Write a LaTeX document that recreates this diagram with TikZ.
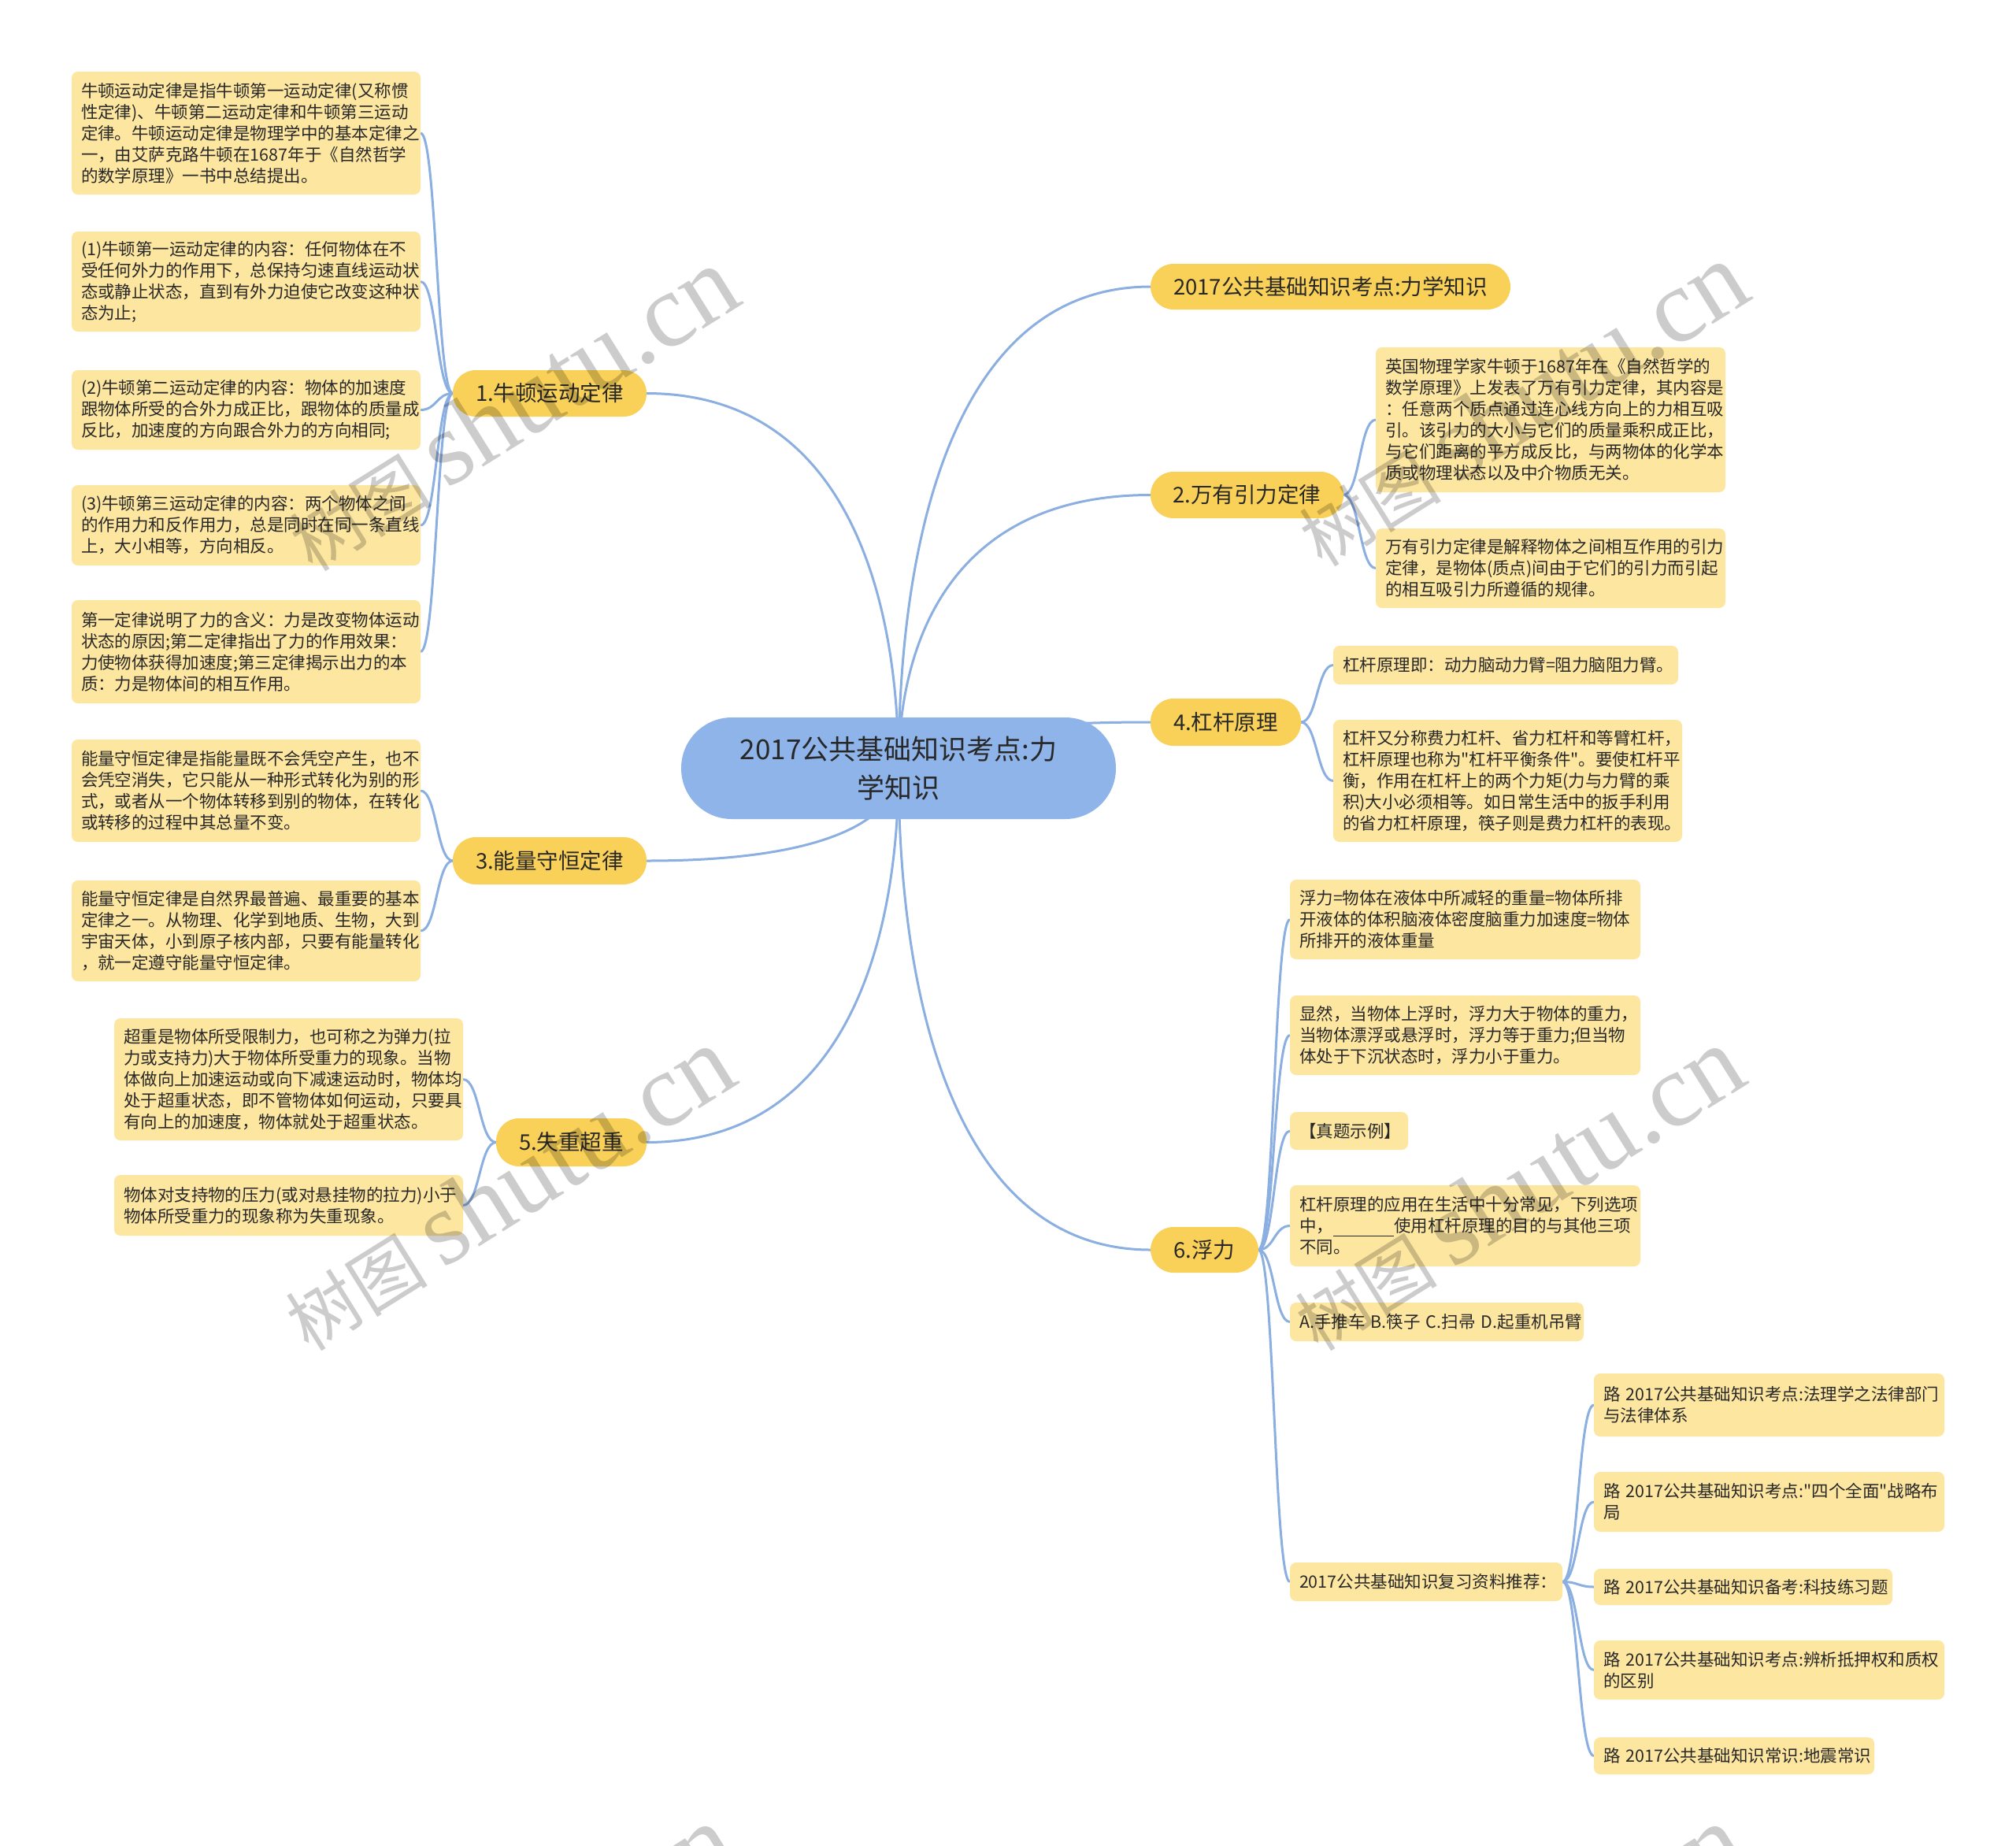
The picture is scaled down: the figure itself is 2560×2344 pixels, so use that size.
\documentclass[tikz,border=0pt]{standalone}
\usepackage{fontspec}
\setmainfont{Noto Sans CJK SC}[Ligatures=TeXOff]
\newfontfamily\wmcjk{Noto Sans CJK SC}
\newfontfamily\wmlat{Liberation Serif}
\usetikzlibrary{calc}
\pgfdeclarelayer{background}
\pgfdeclarelayer{foreground}
\pgfsetlayers{background,main,foreground}
\definecolor{rootc}{RGB}{143,180,234}
\definecolor{lvlc}{RGB}{250,209,88}
\definecolor{leafc}{RGB}{253,230,160}
\definecolor{linec}{RGB}{140,175,225}
\definecolor{txt}{RGB}{40,40,40}
\tikzset{
 leaf/.style={fill=leafc, rounded corners=2.4pt, inner xsep=3.6pt, inner ysep=0pt, outer sep=0pt, align=left, text=txt, font=\fontsize{6.45pt}{8.1pt}\selectfont},
 lvl/.style={fill=lvlc, rounded corners=8.7pt, inner sep=0pt, outer sep=0pt, text=txt, font=\fontsize{8.25pt}{10pt}\selectfont},
 rootn/.style={fill=rootc, rounded corners=19.3pt, inner sep=0pt, outer sep=0pt, align=center, text=txt, font=\fontsize{10.5pt}{14.7pt}\selectfont},
 conn/.style={draw=linec, line width=0.9pt},
 wm/.style={opacity=0.2, rotate=32, text=black, inner sep=0pt}
}
\newcommand\leafA[6]{%
 \pgfmathsetmacro\lfw{(#3-#2)*0.3-7.2}%
 \pgfmathsetmacro\lfh{(#5-#4)*0.3}%
 \node[leaf, text width=\lfw pt, minimum height=\lfh pt, anchor=north west] (#1) at (#2,#4) {#6};}
\newcommand\pill[6]{%
 \pgfmathsetmacro\lfw{(#3-#2)*0.3}%
 \pgfmathsetmacro\lfh{(#5-#4)*0.3}%
 \node[lvl, minimum width=\lfw pt, minimum height=\lfh pt, anchor=north west] (#1) at (#2,#4) {#6};}
\newcommand\brc[2]{\draw[conn] let \p1=(#1), \p2=(#2) in (\p1) .. controls ({0.5*\x1+0.5*\x2},\y1) and ({0.5*\x1+0.5*\x2},\y2) .. (\p2);}
\newcommand\rtc[1]{\draw[conn] let \p1=(root.center), \p2=(#1) in (\p1) .. controls (\x1,{0.55*\y1+0.45*\y2}) and ({0.8*\x1+0.2*\x2},\y2) .. (\p2);}
\newcommand\wmtext{{\wmcjk\fontsize{27pt}{30pt}\selectfont 树图}\hspace{6pt}{\wmlat\fontsize{40pt}{44pt}\selectfont shutu.cn}}
\begin{document}
\begin{tikzpicture}[x=0.3pt,y=-0.3pt]
\useasboundingbox (0,0) rectangle (2560,2344);
% root
\node[rootn, minimum width=165.6pt, minimum height=38.7pt, anchor=north west] (root) at (865,911) {2017公共基础知识考点:力\\学知识};
% level 1
\pill{t0}{1461}{1918}{335}{393}{2017公共基础知识考点:力学知识}
\pill{n1}{575}{821}{470}{529}{1.牛顿运动定律}
\pill{n2}{1461}{1706}{599}{658}{2.万有引力定律}
\pill{n4}{1461}{1652}{887}{947}{4.杠杆原理}
\pill{n3}{575}{821}{1063}{1123}{3.能量守恒定律}
\pill{n5}{630}{821}{1420}{1481}{5.失重超重}
\pill{n6}{1461}{1598}{1558}{1616}{6.浮力}
% leaves left
\leafA{l1}{91}{534}{91}{247}{牛顿运动定律是指牛顿第一运动定律(又称惯\\性定律)、牛顿第二运动定律和牛顿第三运动\\定律。牛顿运动定律是物理学中的基本定律之\\一，由艾萨克路牛顿在1687年于《自然哲学\\的数学原理》一书中总结提出。}
\leafA{l2}{91}{534}{294}{421}{(1)牛顿第一运动定律的内容：任何物体在不\\受任何外力的作用下，总保持匀速直线运动状\\态或静止状态，直到有外力迫使它改变这种状\\态为止;}
\leafA{l3}{91}{534}{470}{571}{(2)牛顿第二运动定律的内容：物体的加速度\\跟物体所受的合外力成正比，跟物体的质量成\\反比，加速度的方向跟合外力的方向相同;}
\leafA{l4}{91}{534}{616}{718}{(3)牛顿第三运动定律的内容：两个物体之间\\的作用力和反作用力，总是同时在同一条直线\\上，大小相等，方向相反。}
\leafA{l5}{91}{534}{762}{893}{第一定律说明了力的含义：力是改变物体运动\\状态的原因;第二定律指出了力的作用效果：\\力使物体获得加速度;第三定律揭示出力的本\\质：力是物体间的相互作用。}
\leafA{e1}{91}{534}{939}{1069}{能量守恒定律是指能量既不会凭空产生，也不\\会凭空消失，它只能从一种形式转化为别的形\\式，或者从一个物体转移到别的物体，在转化\\或转移的过程中其总量不变。}
\leafA{e2}{91}{534}{1118}{1246}{能量守恒定律是自然界最普遍、最重要的基本\\定律之一。从物理、化学到地质、生物，大到\\宇宙天体，小到原子核内部，只要有能量转化\\，就一定遵守能量守恒定律。}
\leafA{w1}{145}{588}{1293}{1448}{超重是物体所受限制力，也可称之为弹力(拉\\力或支持力)大于物体所受重力的现象。当物\\体做向上加速运动或向下减速运动时，物体均\\处于超重状态，即不管物体如何运动，只要具\\有向上的加速度，物体就处于超重状态。}
\leafA{w2}{145}{588}{1492}{1569}{物体对支持物的压力(或对悬挂物的拉力)小于\\物体所受重力的现象称为失重现象。}
% leaves right
\leafA{g1}{1747}{2191}{441}{625}{英国物理学家牛顿于1687年在《自然哲学的\\数学原理》上发表了万有引力定律，其内容是\\：任意两个质点通过连心线方向上的力相互吸\\引。该引力的大小与它们的质量乘积成正比，\\与它们距离的平方成反比，与两物体的化学本\\质或物理状态以及中介物质无关。}
\leafA{g2}{1747}{2191}{671}{772}{万有引力定律是解释物体之间相互作用的引力\\定律，是物体(质点)间由于它们的引力而引起\\的相互吸引力所遵循的规律。}
\leafA{v1}{1693}{2131}{820}{869}{杠杆原理即：动力脑动力臂=阻力脑阻力臂。}
\leafA{v2}{1693}{2136}{914}{1069}{杠杆又分称费力杠杆、省力杠杆和等臂杠杆，\\杠杆原理也称为"杠杆平衡条件"。要使杠杆平\\衡，作用在杠杆上的两个力矩(力与力臂的乘\\积)大小必须相等。如日常生活中的扳手利用\\的省力杠杆原理，筷子则是费力杠杆的表现。}
\leafA{f1}{1638}{2083}{1117}{1218}{浮力=物体在液体中所减轻的重量=物体所排\\开液体的体积脑液体密度脑重力加速度=物体\\所排开的液体重量}
\leafA{f2}{1638}{2083}{1264}{1365}{显然，当物体上浮时，浮力大于物体的重力，\\当物体漂浮或悬浮时，浮力等于重力;但当物\\体处于下沉状态时，浮力小于重力。}
\leafA{f3}{1638}{1788}{1412}{1460}{【真题示例】}
\leafA{f4}{1638}{2083}{1505}{1608}{杠杆原理的应用在生活中十分常见，下列选项\\中，\underline{\hspace{3.6em}}使用杠杆原理的目的与其他三项\\不同。}
\leafA{f5}{1638}{2011}{1654}{1703}{A.手推车~B.筷子~C.扫帚~D.起重机吊臂}
\leafA{f6}{1638}{1984}{1984}{2033}{2017公共基础知识复习资料推荐：}
\leafA{r1}{2024}{2469}{1744}{1824}{路~2017公共基础知识考点:法理学之法律部门\\与法律体系}
\leafA{r2}{2024}{2469}{1869}{1945}{路~2017公共基础知识考点:"四个全面"战略布\\局}
\leafA{r3}{2024}{2403}{1992}{2038}{路~2017公共基础知识备考:科技练习题}
\leafA{r4}{2024}{2469}{2083}{2158}{路~2017公共基础知识考点:辨析抵押权和质权\\的区别}
\leafA{r5}{2024}{2380}{2206}{2253}{路~2017公共基础知识常识:地震常识}
% connectors
\begin{pgfonlayer}{background}
\fill[white] (0,0) rectangle (2560,2344);
\rtc{t0.west}
\rtc{n2.west}
\rtc{n4.west}
\rtc{n6.west}
\rtc{n1.east}
\rtc{n3.east}
\rtc{n5.east}
\brc{n1.west}{l1.east}
\brc{n1.west}{l2.east}
\brc{n1.west}{l3.east}
\brc{n1.west}{l4.east}
\brc{n1.west}{l5.east}
\brc{n3.west}{e1.east}
\brc{n3.west}{e2.east}
\brc{n5.west}{w1.east}
\brc{n5.west}{w2.east}
\brc{n2.east}{g1.west}
\brc{n2.east}{g2.west}
\brc{n4.east}{v1.west}
\brc{n4.east}{v2.west}
\brc{n6.east}{f1.west}
\brc{n6.east}{f2.west}
\brc{n6.east}{f3.west}
\brc{n6.east}{f4.west}
\brc{n6.east}{f5.west}
\brc{n6.east}{f6.west}
\brc{f6.east}{r1.west}
\brc{f6.east}{r2.west}
\brc{f6.east}{r3.west}
\brc{f6.east}{r4.west}
\brc{f6.east}{r5.west}
\end{pgfonlayer}
% watermarks
\begin{pgfonlayer}{foreground}
\begin{scope}
\clip (0,0) rectangle (2560,2344);
\node[wm] (wm1) at (650,520) {\wmtext};
\node[wm] (wm2) at (1932,514) {\wmtext};
\node[wm] (wm3) at (645,1510) {\wmtext};
\node[wm] (wm4) at (1927,1510) {\wmtext};
\node[wm] (wm5) at (645,2498) {\wmtext};
\node[wm] (wm6) at (1927,2498) {\wmtext};
\end{scope}
\end{pgfonlayer}
\end{tikzpicture}
\end{document}
